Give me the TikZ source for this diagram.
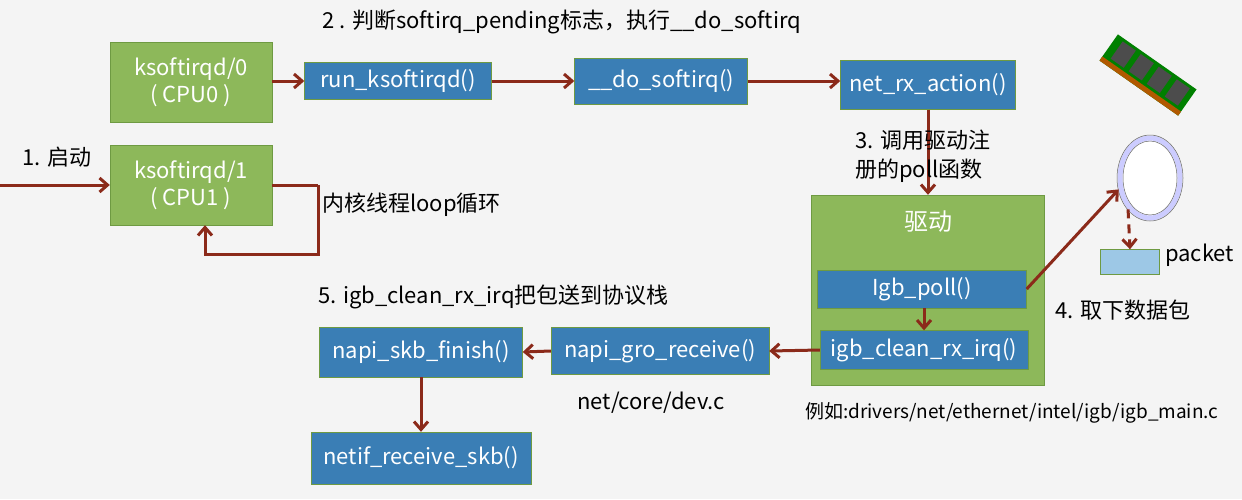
\documentclass[tikz,border=0pt]{standalone}
\usepackage{fontspec}
\setmainfont{Noto Sans CJK SC}
\usetikzlibrary{arrows.meta,shapes.geometric}
\definecolor{bg}{HTML}{F4F4F4}
\definecolor{grn}{HTML}{8DB85A}
\definecolor{grnb}{HTML}{6E9A42}
\definecolor{blu}{HTML}{3A7EB5}
\definecolor{arr}{HTML}{8B2A1A}
\definecolor{pkt}{HTML}{9DC8E6}
\tikzset{
    gbox/.style={draw=grnb,fill=grn,text=white,align=center,font=\fontsize{22}{27}\selectfont},
    bbox/.style={draw=grnb,fill=blu,text=white,font=\fontsize{22}{27}\selectfont},
    lbl/.style={font=\fontsize{22}{29}\selectfont,anchor=west,inner sep=0pt},
    flow/.style={draw=arr,line width=3pt,-{Straight Barb[length=8pt,width=14pt]}},
}
\begin{document}
\begin{tikzpicture}[x=1pt,y=-1pt]
    \fill[bg] (0,0) rectangle (1242,499);
    \useasboundingbox (0,0) rectangle (1242,499);

    % threads
    \node[gbox,minimum width=162pt,minimum height=80pt] (k0) at (191,82) {ksoftirqd/0\\( CPU0 )};
    \node[gbox,minimum width=162pt,minimum height=80pt] (k1) at (191,185) {ksoftirqd/1\\( CPU1 )};

    % softirq chain
    \node[bbox,minimum width=187pt,minimum height=37pt] (run) at (398,81) {run\_ksoftirqd()};
    \node[bbox,minimum width=173pt,minimum height=46pt] (do) at (661,81) {\_\_do\_softirq()};
    \node[bbox,minimum width=175pt,minimum height=49pt] (rx) at (928,85) {net\_rx\_action()};

    % driver
    \node[draw=grnb,fill=grn,minimum width=233pt,minimum height=190pt] (drv) at (928,290) {};
    \node[text=white,font=\fontsize{24}{28}\selectfont] (drvt) at (928,222) {驱动};
    \node[bbox,minimum width=209pt,minimum height=38pt] (poll) at (922,289) {Igb\_poll()};
    \node[bbox,minimum width=208pt,minimum height=39pt] (clean) at (924,350) {igb\_clean\_rx\_irq()};

    % protocol stack
    \node[bbox,minimum width=218pt,minimum height=47pt] (gro) at (660,351) {napi\_gro\_receive()};
    \node[bbox,minimum width=203pt,minimum height=50pt] (fin) at (421,352) {napi\_skb\_finish()};
    \node[bbox,minimum width=220pt,minimum height=52pt] (netif) at (421,458) {netif\_receive\_skb()};

    % ring buffer and packet
    \node[draw=blue!20,line width=5pt,fill=white,ellipse,minimum width=60pt,minimum height=80pt,inner sep=0pt] (ring) at (1150,178) {};
    \draw[black!60,line width=0.5pt] (ring.center) ellipse[x radius=33pt,y radius=43pt];
    \draw[black!60,line width=0.5pt] (ring.center) ellipse[x radius=27pt,y radius=37pt];
    \node[draw=grnb,fill=pkt,minimum width=59pt,minimum height=25pt] (pk) at (1130,262) {};
    \node[lbl] (pkl) at (1165,255) {packet};

    % memory stick
    \begin{scope}[shift={(1148,75)},rotate=-35]
        \fill[green!50!black] (-48,-16) rectangle (48,16);
        \fill[orange!70!black] (-48,11) rectangle (48,16);
        \foreach \i in {-40,-18,4,26} \fill[black!70] (\i,-13) rectangle ++(16,21);
    \end{scope}

    % connectors
    \coordinate (start) at (0,185);
    \coordinate (la) at (318,185);
    \coordinate (lb) at (318,254);
    \coordinate (lc) at (205,254);
    \draw[flow] (start) -- (k1.west);
    \draw[flow] (la) -- (lb) -- (lc) -- (lc |- k1.south);
    \draw[draw=arr,line width=3pt] (k1.east |- la) -- (la);
    \draw[flow] (k0.east |- run) -- (run.west);
    \draw[flow] (run.east) -- (do.west |- run);
    \draw[flow] (do.east |- run) -- (rx.west |- run);
    \draw[flow] (rx.south) -- (drv.north -| rx);
    \draw[flow] (poll.east) -- (ring.200);
    \draw[flow,dash pattern=on 9pt off 6pt] (ring.235) -- (pk.north);
    \draw[flow] (poll.south -| 924,0) -- (clean.north);
    \draw[flow] (clean.west) -- (gro.east);
    \draw[flow] (gro.west) -- (fin.east);
    \draw[flow] (fin.south) -- (netif.north);

    % labels
    \node[lbl] (t2) at (322,22) {2 . 判断softirq\_pending标志，执行\_\_do\_softirq};
    \node[lbl] (t1) at (22,157) {1. 启动};
    \node[lbl] (tl) at (322,205) {内核线程loop循环};
    \node[lbl,align=left] (t3) at (855,156) {3. 调用驱动注\\册的poll函数};
    \node[lbl] (t4) at (1055,310) {4. 取下数据包};
    \node[lbl] (t5) at (318,297) {5. igb\_clean\_rx\_irq把包送到协议栈};
    \node[lbl,anchor=center] (tdev) at (651,403) {net/core/dev.c};
    \node[lbl,font=\fontsize{19}{22}\selectfont] (tex) at (805,413) {例如:drivers/net/ethernet/intel/igb/igb\_main.c};
\end{tikzpicture}
\end{document}
